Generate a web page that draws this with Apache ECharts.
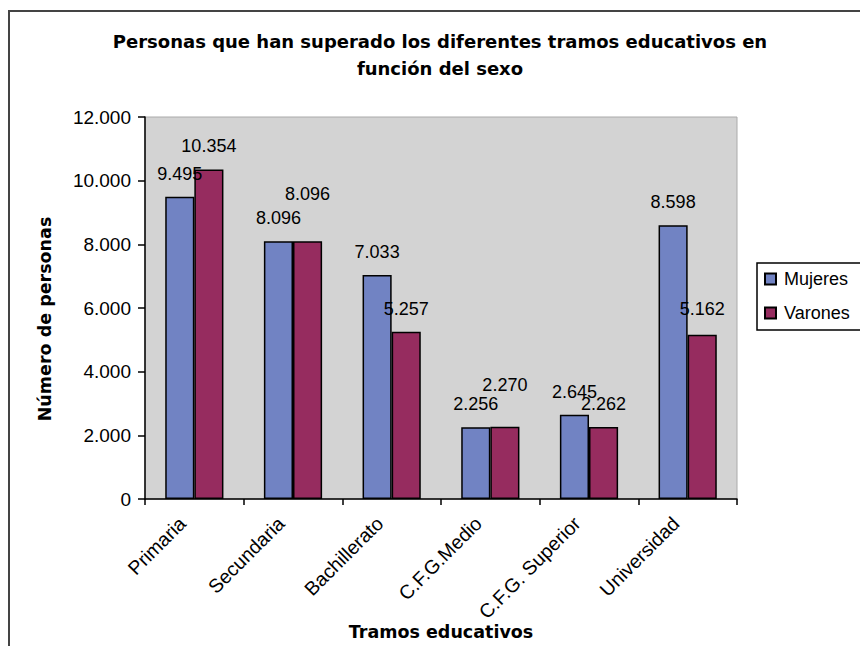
<!DOCTYPE html>
<html>
<head>
<meta charset="utf-8">
<script src="https://cdn.jsdelivr.net/npm/echarts@6/dist/echarts.min.js"></script>
<style>html,body{margin:0;padding:0;background:#fff;}#chart{width:860px;height:646px;}</style>
</head>
<body>
<div id="chart"></div>
<script>
const categories = ['Primaria', 'Secundaria', 'Bachillerato', 'C.F.G.Medio', 'C.F.G. Superior', 'Universidad'];
const mujeres = [9495, 8096, 7033, 2256, 2645, 8598];
const varones = [10354, 8096, 5257, 2270, 2262, 5162];
const seriesNames = ['Mujeres', 'Varones'];
const yTicks = [0, 2000, 4000, 6000, 8000, 10000, 12000];
const titleText = 'Personas que han superado los diferentes tramos educativos en\nfunción del sexo';
const xName = 'Tramos educativos';
const yName = 'Número de personas';

function fmt(v) { return String(v).replace(/\B(?=(\d{3})+(?!\d))/g, '.'); }

// extra label lift (Excel staggering of overlapping labels)
const varonesLift = [0, -24, 0, -19, 0, -3];

const chart = echarts.init(document.getElementById('chart'), null, { renderer: 'svg' });
const numFont = 'Liberation Sans, Arial, sans-serif';

chart.setOption({
  animation: false,
  backgroundColor: '#ffffff',
  grid: {
    left: 145, right: 123, top: 117, bottom: 147,
    show: true, backgroundColor: '#D3D3D3', borderColor: '#aaaaaa', borderWidth: 1
  },
  legend: {
    orient: 'vertical',
    left: 757, top: 263,
    data: seriesNames,
    icon: 'rect',
    itemWidth: 11, itemHeight: 11, itemGap: 16,
    padding: [7, 30, 8, 7],
    borderColor: '#000', borderWidth: 1.5,
    backgroundColor: '#fff',
    textStyle: { fontFamily: numFont, fontSize: 18, color: '#000', lineHeight: 18, padding: [0, 0, 0, 3] }
  },
  xAxis: {
    type: 'category',
    data: categories,
    axisLine: { lineStyle: { color: '#000', width: 1.5 } },
    axisTick: { show: true, length: 6, lineStyle: { color: '#000', width: 1.5 } },
    axisLabel: { rotate: 45, fontFamily: numFont, fontSize: 19.5, color: '#000', margin: 9,
      padding: [0, 17, 0, 0], interval: 0 },
    splitLine: { show: false }
  },
  yAxis: {
    type: 'value',
    min: yTicks[0], max: yTicks[yTicks.length - 1], interval: 2000,
    axisLine: { show: true, lineStyle: { color: '#000', width: 1.5 } },
    axisTick: { show: true, length: 7, lineStyle: { color: '#000', width: 1.5 } },
    axisLabel: { fontFamily: numFont, fontSize: 19, color: '#000', margin: 14, formatter: fmt },
    splitLine: { show: false }
  },
  graphic: [
    { type: 'rect', z: -10, shape: { x: 9, y: 11, width: 900, height: 700 },
      style: { fill: 'none', stroke: '#444', lineWidth: 2 } },
    { type: 'text', x: 440, y: 28, style: { text: titleText, textAlign: 'center', textVerticalAlign: 'top',
      font: 'bold 18px DejaVu Sans, sans-serif', lineHeight: 27, fill: '#000' } },
    { type: 'text', x: 441, y: 632, style: { text: xName, textAlign: 'center', textVerticalAlign: 'middle',
      font: 'bold 17.5px DejaVu Sans, sans-serif', fill: '#000' } },
    { type: 'text', x: 45, y: 319, rotation: Math.PI / 2, style: { text: yName, textAlign: 'center', textVerticalAlign: 'middle',
      font: 'bold 17.5px DejaVu Sans, sans-serif', fill: '#000' } }
  ],
  series: [
    {
      name: seriesNames[0], type: 'bar', data: mujeres,
      barGap: '0%', barCategoryGap: '41%',
      itemStyle: { color: '#7183C3', borderColor: '#000', borderWidth: 1.5 },
      label: { show: true, position: 'top', distance: 14, formatter: p => fmt(p.value),
        fontFamily: numFont, fontSize: 18, color: '#000' }
    },
    {
      name: seriesNames[1], type: 'bar',
      data: varones.map((v, i) => varonesLift[i] ? { value: v, label: { offset: [0, varonesLift[i]] } } : v),
      barGap: '0%', barCategoryGap: '41%',
      itemStyle: { color: '#962C5F', borderColor: '#000', borderWidth: 1.5 },
      label: { show: true, position: 'top', distance: 14, formatter: p => fmt(p.value),
        fontFamily: numFont, fontSize: 18, color: '#000' }
    }
  ]
});
</script>
</body>
</html>
